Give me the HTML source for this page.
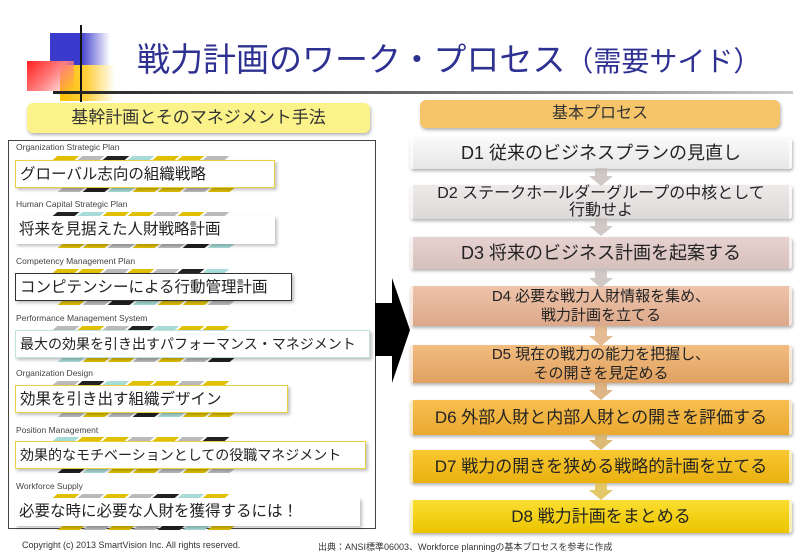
<!DOCTYPE html>
<html><head><meta charset="utf-8"><style>
*{margin:0;padding:0;box-sizing:border-box}
body{width:800px;height:554px;position:relative;background:#fff;overflow:hidden;font-family:"Liberation Sans","Noto Sans CJK JP",sans-serif;color:#222}
.a{position:absolute}
.lbl{position:absolute;left:16px;font-size:8.5px;color:#444;white-space:nowrap}
.box{position:absolute;left:15px;height:28px;background:#fff;font-size:15.5px;line-height:27px;padding-left:4px;white-space:nowrap;box-shadow:2px 2px 3px rgba(0,0,0,.25);color:#222}
.st{position:absolute;height:4px;width:22px;transform:skewX(-50deg)}
.d{position:absolute;left:410px;width:382px;border-radius:3px;text-align:center;font-size:17px;line-height:19px;display:flex;align-items:center;justify-content:center;color:#222;box-shadow:1px 2px 3px rgba(0,0,0,.3);border-left:3px solid rgba(255,255,255,.7);border-right:3px solid rgba(255,255,255,.7)}
</style></head><body>
<div class="a" style="left:50px;top:33px;width:60px;height:32px;background:linear-gradient(90deg,#3a3acc 0,#3a3acc 50%,rgba(60,60,200,0) 100%)"></div>
<div class="a" style="left:60px;top:65px;width:55px;height:36px;background:linear-gradient(90deg,#ffc000 0,#ffd040 50%,rgba(255,220,100,0) 100%)"></div>
<div class="a" style="left:27px;top:61px;width:47px;height:30px;background:linear-gradient(135deg,#ff2020 0,#ff8080 50%,rgba(255,200,200,0) 100%)"></div>
<div class="a" style="left:80px;top:25px;width:2px;height:77px;background:#111"></div>
<div class="a" style="left:53px;top:91px;width:740px;height:3px;background:linear-gradient(90deg,#222,#888 70%,#ccc)"></div>
<div class="a" style="left:137px;top:33px;white-space:nowrap;color:#2e3192"><span style="font-size:33px">戦力計画のワーク・プロセス</span><span style="font-size:28px">（需要サイド）</span></div>
<div class="a" style="left:27px;top:103px;width:343px;height:30px;background:#fbf38a;border-radius:6px;box-shadow:1px 2px 3px rgba(0,0,0,.3);text-align:center;font-size:17px;line-height:30px;color:#333">基幹計画とそのマネジメント手法</div>
<div class="a" style="left:8px;top:140px;width:368px;height:389px;border:1px solid #444"></div>
<div class="lbl" style="top:142px">Organization Strategic Plan</div>
<div class="lbl" style="top:199px">Human Capital Strategic Plan</div>
<div class="lbl" style="top:256px">Competency Management Plan</div>
<div class="lbl" style="top:313px">Performance Management System</div>
<div class="lbl" style="top:368px">Organization Design</div>
<div class="lbl" style="top:425px">Position Management</div>
<div class="lbl" style="top:481px">Workforce Supply</div>
<div id="stripes"></div>
<div class="box" style="top:160px;width:260px;border:1px solid #e8d040">グローバル志向の組織戦略</div>
<div class="box" style="top:216px;width:260px">将来を見据えた人財戦略計画</div>
<div class="box" style="top:273px;width:277px;border:1px solid #333">コンピテンシーによる行動管理計画</div>
<div class="box" style="top:330px;width:355px;border:1px solid #bfe3e0;font-size:14px">最大の効果を引き出すパフォーマンス・マネジメント</div>
<div class="box" style="top:385px;width:273px;border:1px solid #e8d040">効果を引き出す組織デザイン</div>
<div class="box" style="top:441px;width:351px;border:1px solid #e8d040;font-size:14px">効果的なモチベーションとしての役職マネジメント</div>
<div class="box" style="top:498px;width:345px">必要な時に必要な人財を獲得するには！</div>
<svg class="a" style="left:370px;top:270px" width="50" height="120"><polygon points="5,33 22,33 22,8 40,60 22,113 22,86 5,86" fill="#000"/></svg>
<div class="a" style="left:420px;top:100px;width:360px;height:28px;background:#f6c56a;border-radius:6px;box-shadow:1px 2px 3px rgba(0,0,0,.3);text-align:center;font-size:16px;line-height:28px;color:#333">基本プロセス</div>
<div class="d" style="top:138px;height:31px;background:linear-gradient(#fafafa,#e6e6e6);font-size:18px">D1 従来のビジネスプランの見直し</div>
<div class="d" style="top:185px;height:34px;background:linear-gradient(#eeeaea,#ddd8d8);font-size:16px;line-height:17px">D2 ステークホールダーグループの中核として<br>行動せよ</div>
<div class="d" style="top:237px;height:32px;background:linear-gradient(#e6d2d0,#d6c0bc);font-size:18px">D3 将来のビジネス計画を起案する</div>
<div class="d" style="top:286px;height:40px;background:linear-gradient(#eec4aa,#dca88a);font-size:15px">D4 必要な戦力人財情報を集め、<br>戦力計画を立てる</div>
<div class="d" style="top:345px;height:38px;background:linear-gradient(#f2bd80,#e0a060);font-size:15px">D5 現在の戦力の能力を把握し、<br>その開きを見定める</div>
<div class="d" style="top:400px;height:35px;background:linear-gradient(#f8bf50,#eaa830);font-size:17px">D6 外部人財と内部人財との開きを評価する</div>
<div class="d" style="top:450px;height:33px;background:linear-gradient(#f8c830,#eab010);font-size:17px">D7 戦力の開きを狭める戦略的計画を立てる</div>
<div class="d" style="top:500px;height:33px;background:linear-gradient(#fade30,#ecc400);font-size:17px">D8 戦力計画をまとめる</div>
<svg class="a" style="left:588px;top:168px" width="26" height="340">
<g fill="#c8c0bc" opacity=".85">
<polygon points="7,0 19,0 19,8 25,8 13,18 1,8 7,8"/>
<polygon points="7,50 19,50 19,58 25,58 13,68 1,58 7,58"/>
<polygon points="7,100 19,100 19,110 25,110 13,120 1,110 7,110"/>
<polygon points="7,158 19,158 19,168 25,168 13,178 1,168 7,168" fill="#e0b080"/>
<polygon points="7,214 19,214 19,222 25,222 13,232 1,222 7,222" fill="#d8a870"/>
<polygon points="7,266 19,266 19,272 25,272 13,282 1,272 7,272" fill="#d8b060"/>
<polygon points="7,315 19,315 19,322 25,322 13,332 1,322 7,322" fill="#e0c050"/>
</g></svg>
<div class="a" style="left:22px;top:540px;font-size:9px;color:#333">Copyright (c) 2013 SmartVision Inc. All rights reserved.</div>
<div class="a" style="left:318px;top:540px;font-size:9px;color:#333">出典：ANSI標準06003、Workforce planningの基本プロセスを参考に作成</div>
<script>
var tops=[160,216,273,330,385,441,498],cols=["#e0c000","#bbb","#222","#a8dcd8","#e0c000","#e0c000","#bbb"],h='';
tops.forEach(function(t,i){for(var k=0;k<7;k++){h+='<div class="st" style="left:'+(55+k*25)+'px;top:'+(t-4)+'px;background:'+cols[(k+i*2)%7]+'"></div>';h+='<div class="st" style="left:'+(60+k*25)+'px;top:'+(t+28)+'px;background:'+cols[(k+i*3+1)%7]+'"></div>';}});
document.getElementById('stripes').innerHTML=h;
</script>
</body></html>
